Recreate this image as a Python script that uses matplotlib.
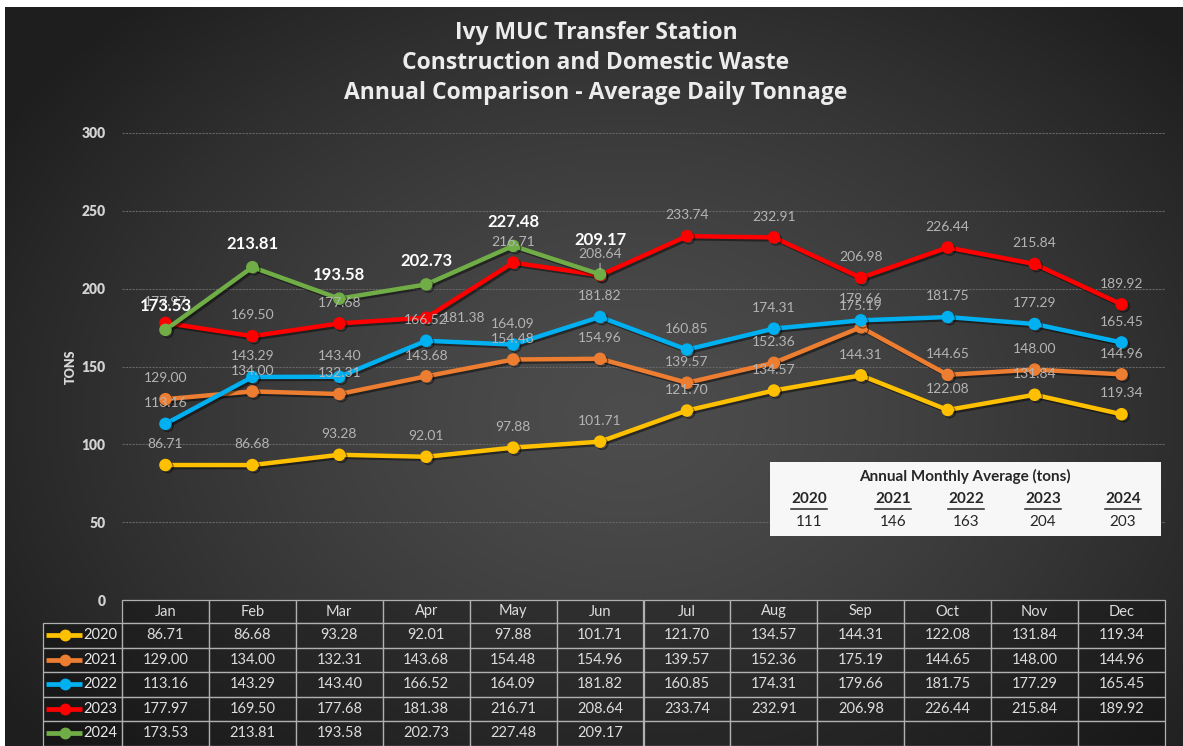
import numpy as np
import matplotlib.pyplot as plt
import matplotlib.patheffects as pe
from matplotlib import transforms
from matplotlib.patches import Rectangle
from matplotlib.lines import Line2D

# ---------------- data ----------------
months = ['Jan', 'Feb', 'Mar', 'Apr', 'May', 'Jun', 'Jul', 'Aug', 'Sep', 'Oct', 'Nov', 'Dec']
years = ['2020', '2021', '2022', '2023', '2024']
t2020 = [86.71, 86.68, 93.28, 92.01, 97.88, 101.71, 121.70, 134.57, 144.31, 122.08, 131.84, 119.34]
t2021 = [129.00, 134.00, 132.31, 143.68, 154.48, 154.96, 139.57, 152.36, 175.19, 144.65, 148.00, 144.96]
t2022 = [113.16, 143.29, 143.40, 166.52, 164.09, 181.82, 160.85, 174.31, 179.66, 181.75, 177.29, 165.45]
t2023 = [177.97, 169.50, 177.68, 181.38, 216.71, 208.64, 233.74, 232.91, 206.98, 226.44, 215.84, 189.92]
t2024 = [173.53, 213.81, 193.58, 202.73, 227.48, 209.17]
avg_values = [111, 146, 163, 204, 203]
yticks = [0, 50, 100, 150, 200, 250, 300]

series = [t2020, t2021, t2022, t2023, t2024]
colors = ['#FFC000', '#ED7D31', '#00B0F0', '#FF0000', '#70AD47']

# label offsets (points) that differ from the default "above"
label_shift = {(3, 3): (27, 0), (4, 5): (0, 25)}

W, H = 1183, 746
fig = plt.figure(figsize=(W / 100, H / 100), dpi=100)
fig.patch.set_facecolor('white')


def fx(px):
    return px / W


def fy(py):
    return 1 - py / H


# dark radial background
bg = fig.add_axes([fx(5), 0, 1 - fx(5), fy(7)])
gx, gy = np.meshgrid(np.linspace(0, 1, 400), np.linspace(0, 1, 260))
r = np.sqrt(((gx - 0.53) / 0.62) ** 2 + ((gy - 0.55) / 0.75) ** 2)
r = np.clip(r, 0, 1)
c_in, c_out = 0.30, 0.12
shade = c_in * (1 - r ** 1.4) + c_out * r ** 1.4
bg.imshow(np.dstack([shade, shade, shade]), aspect='auto', extent=[0, 1, 0, 1], interpolation='bicubic')
bg.set_axis_off()
bg.set_zorder(-10)

# main chart
ax = fig.add_axes([fx(122), 1 - 600 / H, fx(1165 - 122), (600 - 133) / H])
ax.set_facecolor('none')
ax.set_xlim(-0.5, 11.5)
ax.set_ylim(0, 300)
ax.set_yticks(yticks)
ax.set_xticks([])
for s in ax.spines.values():
    s.set_visible(False)
ax.tick_params(axis='y', length=0, pad=12, labelsize=10, labelcolor='#d2d2d2')
plt.setp(ax.get_yticklabels(), fontweight='heavy', fontfamily='Lato')
ax.grid(axis='y', color='#666666', lw=0.8, ls=(0, (2, 1)))
ax.set_axisbelow(True)
ax.set_ylabel('TONS', color='#d8d8d8', fontsize=9, fontweight='heavy', fontfamily='Lato', labelpad=3)

shadow = [pe.SimpleLineShadow(offset=(1.5, -1.5), alpha=0.45, shadow_color='black'), pe.Normal()]
for i, (vals, col) in enumerate(zip(series, colors)):
    ax.plot(range(len(vals)), vals, color=col, lw=3.2, marker='o', ms=8,
            solid_joinstyle='round', zorder=3 + i, path_effects=shadow)

for i, vals in enumerate(series):
    bold = years[i] == '2024'
    for j, v in enumerate(vals):
        off = label_shift.get((i, j), (0, 17 if bold else 15))
        kw = {}
        if (i, j) == (3, 5):
            kw['arrowprops'] = dict(arrowstyle='-', color='#d0d0d0', lw=0.6, shrinkA=0, shrinkB=4)
        ax.annotate(f'{v:.2f}', (j, v), xytext=off, textcoords='offset points',
                    ha='center', va='center', fontfamily='Lato',
                    fontsize=12 if bold else 10,
                    fontweight='bold' if bold else 'normal',
                    color='white' if bold else '#b4b4b4', zorder=20 + i, **kw)

# title
for k, line in enumerate(['Ivy MUC Transfer Station', 'Construction and Domestic Waste',
                          'Annual Comparison - Average Daily Tonnage']):
    fig.text(fx(596), fy(33 + 30 * k), line, ha='center', va='center', fontsize=16.5,
             fontweight='bold', fontfamily='Open Sans', color='#ececec')

# data table under the chart
trans = transforms.blended_transform_factory(ax.transData, fig.transFigure)
head_h = 23 / H
row_h = 24.5 / H
top = fy(600)
lab_w = 79 / 86.92
cell_kw = dict(transform=trans, facecolor=(0, 0, 0, 0.28), edgecolor='#b0b0b0', lw=0.9, clip_on=False)
tkw = dict(transform=trans, ha='center', va='center', fontsize=10.5, fontfamily='Lato', color='#dcdcdc')
for j, m in enumerate(months):
    fig.add_artist(Rectangle((j - 0.5, top - head_h), 1, head_h, **cell_kw))
    fig.text(j, top - head_h / 2, m, **tkw)
for i, vals in enumerate(series):
    y0 = top - head_h - row_h * (i + 1)
    yc = y0 + row_h / 2
    fig.add_artist(Rectangle((-0.5 - lab_w, y0), lab_w, row_h, **cell_kw))
    fig.text(-0.55, yc, years[i], transform=trans, ha='right', va='center',
             fontsize=10.5, fontfamily='Lato', color='#e8e8e8')
    fig.add_artist(Line2D([-1.37, -0.96], [yc] * 2, transform=trans, color=colors[i],
                          lw=3.4, solid_capstyle='butt'))
    fig.add_artist(Line2D([-1.16], [yc], transform=trans, color=colors[i], marker='o', ms=7.5))
    for j in range(len(months)):
        fig.add_artist(Rectangle((j - 0.5, y0), 1, row_h, **cell_kw))
        if j < len(vals):
            fig.text(j, yc, f'{vals[j]:.2f}', **tkw)

# annual monthly average box
fig.add_artist(Rectangle((fx(770), fy(536)), fx(391), 74 / H, transform=fig.transFigure,
                         facecolor='#f7f7f7', edgecolor='none'))
fig.text(fx(965), fy(476), 'Annual Monthly Average (tons)', ha='center', va='center',
         fontsize=11, fontweight='bold', fontfamily='Lato', color='#262626')
xs = [809, 893, 966, 1043, 1123]
for x, yr, v in zip(xs, years, avg_values):
    fig.text(fx(x), fy(499), yr, ha='center', va='center', fontsize=11, fontweight='bold',
             fontfamily='Lato', color='#262626')
    fig.add_artist(Line2D([fx(x - 18), fx(x + 18)], [fy(509)] * 2, transform=fig.transFigure,
                          color='#262626', lw=1.1))
    fig.text(fx(x), fy(522), str(v), ha='center', va='center', fontsize=11,
             fontfamily='Lato', color='#262626')

fig.savefig('out.png', dpi=100)
